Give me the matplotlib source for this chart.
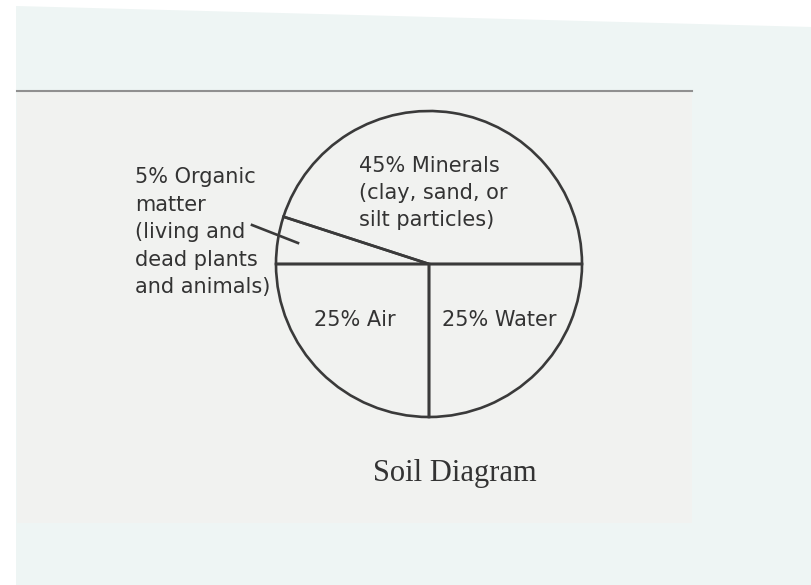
import matplotlib.pyplot as plt
from matplotlib.patches import Rectangle, Polygon

# soil composition, percent
parts = ["Minerals", "Organic matter", "Air", "Water"]
shares = [45, 5, 25, 25]

W, H = 812, 585
LINE = "#3a3a3a"


def py(y):
    # picture rows run downwards, data y runs upwards
    return H - y


fig = plt.figure(figsize=(W / 100, H / 100), dpi=100, facecolor="#eef5f4")
ax = fig.add_axes([0, 0, 1, 1])
ax.set_xlim(0, W)
ax.set_ylim(0, H)
ax.set_aspect("equal")
ax.axis("off")

# scanned page look: white margin strip, paper sheet with a grey top edge
ax.add_patch(Polygon([(0, py(0)), (W, py(0)), (W, py(27)), (16, py(6)), (16, py(H)), (0, py(H))],
                     closed=True, facecolor="white", edgecolor="none", zorder=0))
ax.add_patch(Rectangle((17, py(523)), 675, 433, facecolor="#f1f2f0", edgecolor="none", zorder=1))
ax.plot([17, 692], [py(91), py(91)], color="#909090", lw=1.5, zorder=2)

ax.pie(shares, startangle=0, counterclock=True, center=(429, py(264)), radius=153,
       colors=["none"] * 4, frame=True,
       wedgeprops=dict(edgecolor=LINE, linewidth=1.9, zorder=3))
ax.set_xlim(0, W)
ax.set_ylim(0, H)
ax.axis("off")

txt = dict(family="DejaVu Sans", fontsize=15, color="#333333", zorder=4)
ax.text(359, py(156), "45% Minerals\n(clay, sand, or\nsilt particles)", ha="left", va="top",
        linespacing=1.45, **txt)
ax.text(135, py(167), "5% Organic\nmatter\n(living and\ndead plants\nand animals)", ha="left", va="top",
        linespacing=1.47, **txt)
ax.text(355, py(320), "25% Air", ha="center", va="center", **txt)
ax.text(499, py(320), "25% Water", ha="center", va="center", **txt)

# pointer from the organic label into its slice
ax.plot([252, 298], [py(225), py(243)], color=LINE, lw=1.9, zorder=4)

ax.text(455, py(474), "Soil Diagram", ha="center", va="center", family="Liberation Serif",
        fontsize=22, color="#333333", zorder=4)

fig.savefig("out.png", dpi=100, facecolor=fig.get_facecolor())
